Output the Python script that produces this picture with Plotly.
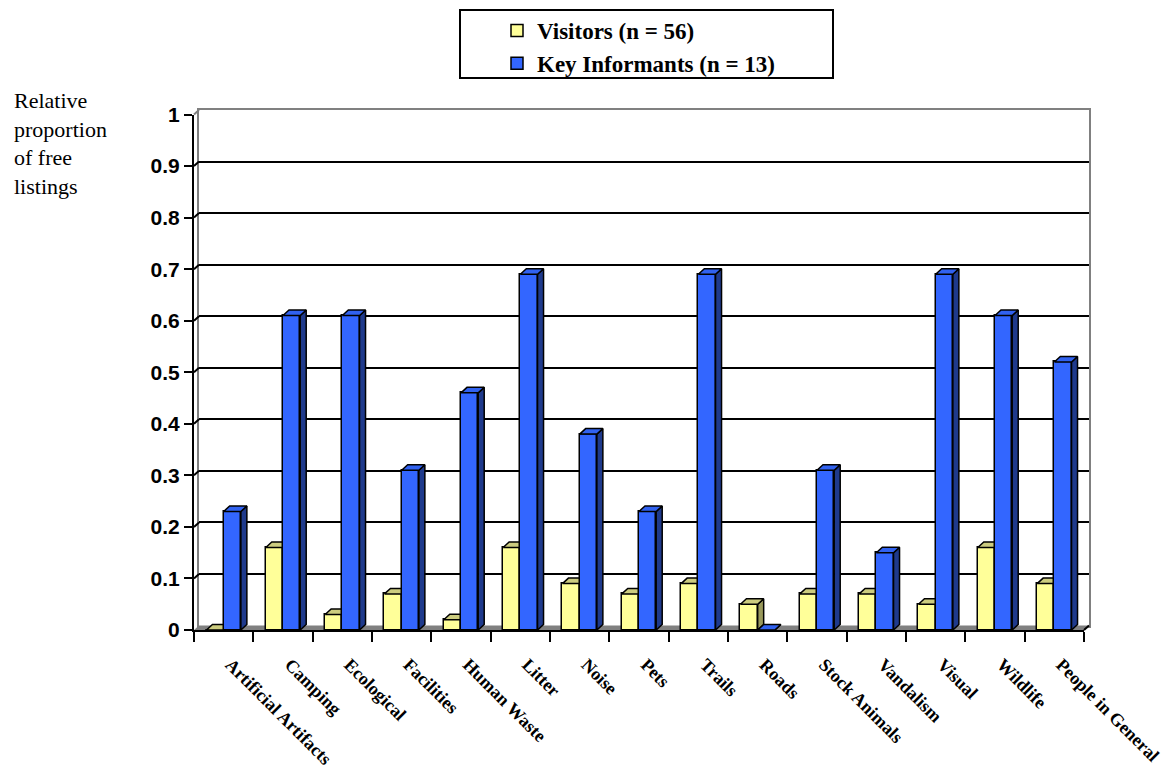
import plotly.graph_objects as go

# ---------------- data ----------------
categories = ["Artificial Artifacts", "Camping", "Ecological", "Facilities", "Human Waste",
              "Litter", "Noise", "Pets", "Trails", "Roads", "Stock Animals", "Vandalism",
              "Visual", "Wildlife", "People in General"]
visitors = [0.0, 0.16, 0.03, 0.07, 0.02, 0.16, 0.09, 0.07, 0.09, 0.05, 0.07, 0.07, 0.05, 0.16, 0.09]
key_informants = [0.23, 0.61, 0.61, 0.31, 0.46, 0.69, 0.38, 0.23, 0.69, 0.0, 0.31, 0.15, 0.69, 0.61, 0.52]
series_names = ["Visitors (n = 56)", "Key Informants (n = 13)"]
y_tick_values = [0, 0.1, 0.2, 0.3, 0.4, 0.5, 0.6, 0.7, 0.8, 0.9, 1]
y_tick_labels = ["0", "0.1", "0.2", "0.3", "0.4", "0.5", "0.6", "0.7", "0.8", "0.9", "1"]
y_title_lines = ["Relative", "proportion", "of free", "listings"]

# ---------------- geometry (pixels) ----------------
FIG_W, FIG_H = 1165, 772
M_L, M_R, M_T, M_B = 194, 76, 110, 142
PLOT_W = FIG_W - M_L - M_R
PLOT_H = FIG_H - M_T - M_B
WALL_DX, WALL_DY = 5, 4.5
FRONT_W = PLOT_W - WALL_DX
FRONT_H = 515.5
BAR_W = 0.29
BAR_DX_PX, BAR_DY_PX = 6, 5.5

n = len(categories)
idx = list(range(n))
x_unit = FRONT_W / n
dx = BAR_DX_PX / x_unit
dy = BAR_DY_PX / FRONT_H

SERIF = "Liberation Serif, Times New Roman, serif"
SANS = "Liberation Sans, Arial, sans-serif"
YELLOW, YELLOW_TOP, YELLOW_SIDE = "#FFFF99", "#CCCC7F", "#99995C"
BLUE, BLUE_TOP, BLUE_SIDE = "#3366FF", "#3162F0", "#1F3A8C"
EDGE = dict(color="black", width=1.5)


def px_x(p):
    return (p - M_L) / PLOT_W


def px_y(p):
    return (FIG_H - M_B - p) / PLOT_H


def faces(values, offset):
    tx, ty, sx, sy = [], [], [], []
    for i, v in zip(idx, values):
        x0 = i + offset
        x1 = x0 + BAR_W
        tx += [x0, x1, x1 + dx, x0 + dx, x0, None]
        ty += [v, v, v + dy, v + dy, v, None]
        sx += [x1, x1 + dx, x1 + dx, x1, x1, None]
        sy += [0, dy, v + dy, v, 0, None]
    return tx, ty, sx, sy


fig = go.Figure()

# back wall (grid) subplot – needs a trace to exist
fig.add_trace(go.Scatter(x=[None], y=[None], xaxis="x", yaxis="y", showlegend=False,
                         hoverinfo="skip"))

for vals, off, name, cf, ct, cs, xa, ya in [
    (visitors, -BAR_W, series_names[0], YELLOW, YELLOW_TOP, YELLOW_SIDE, "x2", "y2"),
    (key_informants, 0.0, series_names[1], BLUE, BLUE_TOP, BLUE_SIDE, "x3", "y3"),
]:
    fig.add_trace(go.Bar(x=idx, y=vals, width=BAR_W, offset=off, name=name,
                         marker=dict(color=cf, line=EDGE), xaxis=xa, yaxis=ya))
    tx, ty, sx, sy = faces(vals, off)
    fig.add_trace(go.Scatter(x=sx, y=sy, mode="lines", fill="toself", fillcolor=cs,
                             line=EDGE, xaxis=xa, yaxis=ya, showlegend=False, hoverinfo="skip"))
    fig.add_trace(go.Scatter(x=tx, y=ty, mode="lines", fill="toself", fillcolor=ct,
                             line=EDGE, xaxis=xa, yaxis=ya, showlegend=False, hoverinfo="skip"))

xr = [-0.5, n - 0.5]
front_xd = [0, FRONT_W / PLOT_W]
front_yd = [0, FRONT_H / PLOT_H]

fig.update_layout(
    width=FIG_W, height=FIG_H,
    margin=dict(l=M_L, r=M_R, t=M_T, b=M_B, autoexpand=False),
    paper_bgcolor="white", plot_bgcolor="rgba(0,0,0,0)",
    showlegend=True,
    legend=dict(x=px_x(497), y=px_y(9), xanchor="left", yanchor="top",
                bgcolor="rgba(0,0,0,0)", borderwidth=0,
                font=dict(family=SERIF, size=23, color="black", weight="bold"),
                traceorder="normal"),
    # back wall
    xaxis=dict(domain=[WALL_DX / PLOT_W, 1], range=xr, anchor="y", showticklabels=False,
               showgrid=False, zeroline=False, ticks="", showline=True, linecolor="#808080",
               linewidth=2, mirror=True),
    yaxis=dict(domain=[WALL_DY / PLOT_H, 1], range=[0, 1], anchor="x", tickmode="array",
               tickvals=y_tick_values[1:], showticklabels=False, ticks="", showgrid=True,
               gridcolor="black", gridwidth=2, zeroline=False, showline=True,
               linecolor="#808080", linewidth=2, mirror=True),
    # front axes
    xaxis2=dict(domain=front_xd, range=xr, anchor="y2", tickmode="array", tickvals=idx,
                ticktext=categories, tickangle=45, ticks="outside", ticklen=10,
                tickcolor="rgba(0,0,0,0)", showline=True, linecolor="black", linewidth=2,
                showgrid=False, zeroline=False, ticklabelshift=7, ticklabelstandoff=5,
                ticklabeloverflow="allow",
                minor=dict(tickmode="array", tickvals=[i - 0.5 for i in range(n + 1)],
                           ticks="outside", ticklen=10, tickwidth=2, tickcolor="black",
                           showgrid=False),
                tickfont=dict(family=SERIF, size=18, color="black", weight="bold")),
    yaxis2=dict(domain=front_yd, range=[0, 1], anchor="x2", tickmode="array",
                tickvals=y_tick_values, ticktext=y_tick_labels, ticks="outside", ticklen=8,
                tickwidth=2, tickcolor="black", showline=True, linecolor="black", linewidth=2,
                showgrid=False, zeroline=False,
                tickfont=dict(family=SANS, size=21, color="black", weight="bold")),
    xaxis3=dict(overlaying="x2", range=xr, visible=False, anchor="y3"),
    yaxis3=dict(overlaying="y2", range=[0, 1], visible=False, anchor="x3"),
    bargap=0, barmode="overlay",
)

shapes = []
# floor
fx1 = FRONT_W / PLOT_W
fy = WALL_DY / PLOT_H
fxb = WALL_DX / PLOT_W
shapes.append(dict(type="path", xref="paper", yref="paper", layer="below",
                   path=f"M 0 0 L {fx1} 0 L 1 {fy} L {fxb} {fy} Z",
                   fillcolor="#808080", line=dict(width=0)))
# connectors between front axis ticks and back wall grid lines
for v in y_tick_values[1:]:
    y0 = v * FRONT_H / PLOT_H
    y1 = (WALL_DY + v * FRONT_H) / PLOT_H
    col = "#808080" if v == 1 else "black"
    shapes.append(dict(type="line", xref="paper", yref="paper", x0=0, y0=y0, x1=fxb, y1=y1,
                       line=dict(color=col, width=2)))
shapes.append(dict(type="line", xref="paper", yref="paper", x0=fx1, y0=0, x1=1, y1=fy,
                   line=dict(color="black", width=2)))
# legend box
shapes.append(dict(type="rect", xref="paper", yref="paper",
                   x0=px_x(460), x1=px_x(833), y0=px_y(78), y1=px_y(10),
                   line=dict(color="black", width=2), fillcolor="rgba(0,0,0,0)"))
fig.update_layout(shapes=shapes)

fig.add_annotation(xref="paper", yref="paper", x=px_x(12), y=px_y(86), xanchor="left",
                   yanchor="top", align="left", showarrow=False,
                   text="<br>".join(y_title_lines),
                   font=dict(family=SERIF, size=22, color="black"))

fig.write_html("out.html")
